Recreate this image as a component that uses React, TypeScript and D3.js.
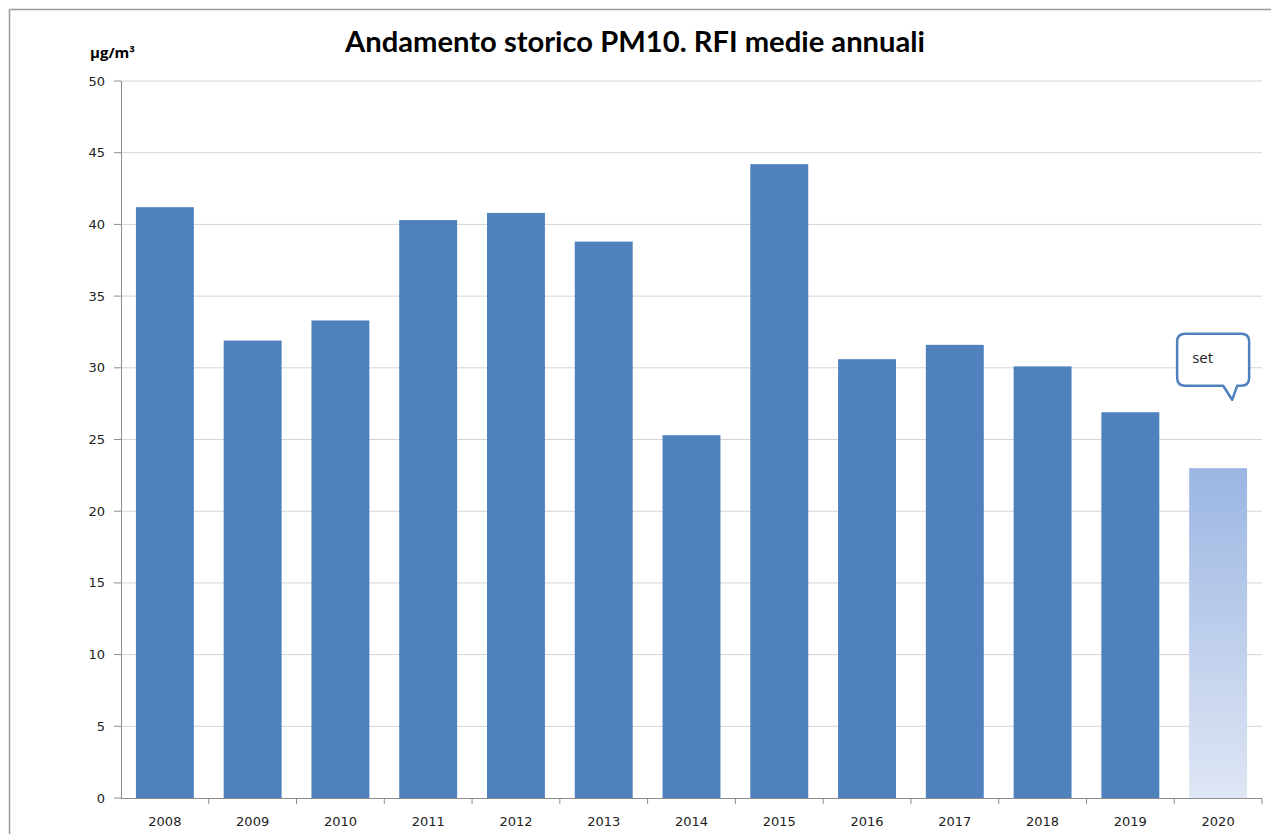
import React from "react";
import * as d3 from "d3";

const years = ["2008", "2009", "2010", "2011", "2012", "2013", "2014", "2015", "2016", "2017", "2018", "2019", "2020"];
const pm10 = [41.2, 31.9, 33.3, 40.3, 40.8, 38.8, 25.3, 44.2, 30.6, 31.6, 30.1, 26.9, 23.0];
const yTicks = [0, 5, 10, 15, 20, 25, 30, 35, 40, 45, 50];
const partialYear = "2020";
const calloutText = "set";

const W = 1271;
const H = 834;
const margin = { top: 81, right: 9, bottom: 36, left: 121 };

export default function App() {
  const width = W - margin.left - margin.right;
  const height = H - margin.top - margin.bottom;

  const x = d3.scaleBand<string>().domain(years).range([0, width]).paddingInner(0.34).paddingOuter(0.17);
  const xb = d3.scaleBand<string>().domain(years).range([0, width]);
  const y = d3.scaleLinear().domain([0, 50]).range([height, 0]);

  const lastX = x(partialYear)!;
  const lastVal = pm10[years.indexOf(partialYear)];
  // callout anchor relative to last bar
  const cx = lastX - 12;
  const cy = y(30) - 34;

  const font = "'DejaVu Sans', Verdana, sans-serif";

  return (
    <svg width={W} height={H} style={{ position: "absolute", left: 0, top: 0, background: "#fff" }}>
      <defs>
        <linearGradient id="fade" x1="0" y1="0" x2="0" y2="1">
          <stop offset="0%" stopColor="#9bb6e3" />
          <stop offset="100%" stopColor="#dfe6f4" />
        </linearGradient>
      </defs>
      <line x1={9.5} y1={9.5} x2={W} y2={9.5} stroke="#9a9a9a" strokeWidth={1.5} />
      <line x1={9.5} y1={9.5} x2={9.5} y2={H} stroke="#9a9a9a" strokeWidth={1.5} />

      <text x={635} y={52} textAnchor="middle" fontFamily="Lato, 'Open Sans', sans-serif" fontWeight="bold" fontSize={28} textLength={580} lengthAdjust="spacingAndGlyphs">
        Andamento storico PM10. RFI medie annuali
      </text>
      <text x={90} y={58} fontFamily="'Open Sans', sans-serif" fontWeight="bold" fontSize={15}>
        µg/m³
      </text>

      <g transform={`translate(${margin.left},${margin.top})`}>
        {yTicks.map((t) => (
          <g key={t} transform={`translate(0,${y(t)})`}>
            {t > 0 && <line x1={0} x2={width} stroke="#d4d4d4" strokeWidth={1} />}
            <line x1={-7} x2={0} stroke="#8c8c8c" />
            <text x={-16} dy="0.35em" textAnchor="end" fontFamily={font} fontSize={13} fill="#222">
              {t}
            </text>
          </g>
        ))}

        {years.map((yr, i) => (
          <rect
            key={yr}
            x={x(yr)}
            y={y(pm10[i])}
            width={x.bandwidth()}
            height={y(0) - y(pm10[i])}
            fill={yr === partialYear ? "url(#fade)" : "#4f81bd"}
          />
        ))}

        <line x1={0.5} y1={0} x2={0.5} y2={height} stroke="#8c8c8c" />
        <line x1={0} y1={height + 0.5} x2={width} y2={height + 0.5} stroke="#8c8c8c" />
        {years.map((yr) => (
          <line key={"t" + yr} x1={xb(yr)! + xb.bandwidth()} x2={xb(yr)! + xb.bandwidth()} y1={height} y2={height + 6} stroke="#8c8c8c" />
        ))}
        {years.map((yr) => (
          <text key={"l" + yr} x={xb(yr)! + xb.bandwidth() / 2} y={height + 28} textAnchor="middle" fontFamily={font} fontSize={13} fill="#222">
            {yr}
          </text>
        ))}

        <g transform={`translate(${cx},${cy})`}>
          <path
            d="M8,0 H64 Q72,0 72,8 V44 Q72,52 64,52 H60 L55,66 L46,52 H8 Q0,52 0,44 V8 Q0,0 8,0 Z"
            fill="#fff"
            stroke="#4f81bd"
            strokeWidth={2.5}
            strokeLinejoin="round"
          />
          <text x={15} y={29} fontFamily="'Open Sans', sans-serif" fontSize={15} fill="#222">
            {calloutText}
          </text>
        </g>
        {lastVal && null}
      </g>
    </svg>
  );
}
